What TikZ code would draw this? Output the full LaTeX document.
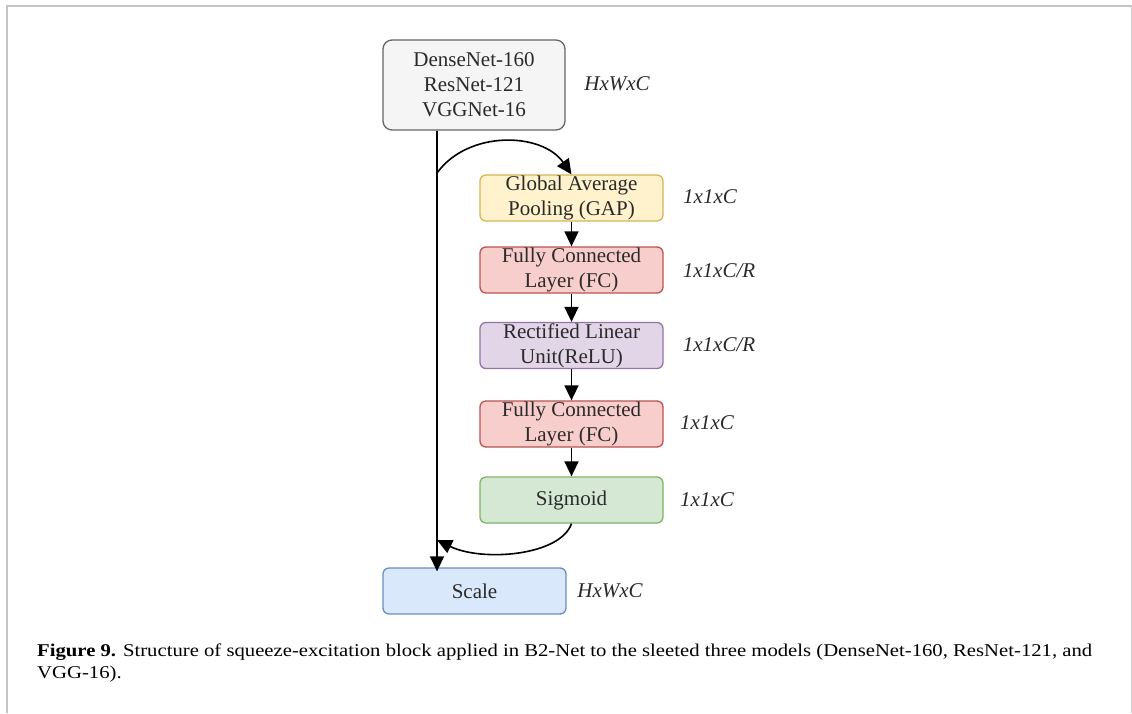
\documentclass[tikz,border=0pt]{standalone}
\usepackage{fontspec}
\setmainfont{Liberation Serif}
\newfontfamily\capfont[FakeStretch=1.15]{Liberation Serif}
\usetikzlibrary{arrows.meta}

\definecolor{framegray}{HTML}{C4C4C4}
\definecolor{txt}{HTML}{2A2A2A}
\definecolor{grayfill}{HTML}{F5F5F5}\definecolor{grayline}{HTML}{666666}
\definecolor{yelfill}{HTML}{FFF2CC}\definecolor{yelline}{HTML}{D6B656}
\definecolor{redfill}{HTML}{F8CECC}\definecolor{redline}{HTML}{B85450}
\definecolor{purfill}{HTML}{E1D5E7}\definecolor{purline}{HTML}{9673A6}
\definecolor{grnfill}{HTML}{D5E8D4}\definecolor{grnline}{HTML}{82B366}
\definecolor{blufill}{HTML}{DAE8FC}\definecolor{bluline}{HTML}{6C8EBF}

\tikzset{
  layer/.style={draw, line width=1.3pt, rounded corners=6pt, minimum width=183pt,
    minimum height=46pt, inner sep=0pt, align=center, text=txt,
    font=\fontsize{21}{25}\selectfont},
  dimlabel/.style={text=txt, font=\fontsize{21}{24}\selectfont\itshape, inner sep=0pt},
  flow/.style={line width=1.6pt, -{Triangle[length=15pt,width=14pt]}},
}

\begin{document}
\begin{tikzpicture}[x=1pt,y=-1pt]
  % page area and frame
  \fill[white] (0,0) rectangle (1132,713);
  \useasboundingbox (0,0) rectangle (1132,713);
  \draw[framegray, line width=2pt] (7,713) -- (7,5.5) -- (1132,5.5);
  \draw[framegray!80, line width=1pt] (1131,5.5) -- (1131,713);

  % input block
  \node[layer, draw=grayline, fill=grayfill, rounded corners=9pt,
        minimum width=182pt, minimum height=90pt] (inp) at (474,85)
        {DenseNet-160\\ResNet-121\\VGGNet-16};
  \node[dimlabel] (inpdim) at (617,84) {HxWxC};

  % squeeze-excitation branch
  \node[layer, draw=yelline, fill=yelfill] (gap) at (571.5,198) {Global Average\\Pooling (GAP)};
  \node[layer, draw=redline, fill=redfill] (fc1) at (571.5,270) {Fully Connected\\Layer (FC)};
  \node[layer, draw=purline, fill=purfill] (relu) at (571.5,345.5) {Rectified Linear\\Unit(ReLU)};
  \node[layer, draw=redline, fill=redfill] (fc2) at (571.5,424) {Fully Connected\\Layer (FC)};
  \node[layer, draw=grnline, fill=grnfill] (sig) at (571.5,500) {Sigmoid};

  \node[dimlabel] (gapdim) at (710,197) {1x1xC};
  \node[dimlabel] (fc1dim) at (719,271) {1x1xC/R};
  \node[dimlabel] (reludim) at (719,345) {1x1xC/R};
  \node[dimlabel] (fc2dim) at (707,423) {1x1xC};
  \node[dimlabel] (sigdim) at (707,500) {1x1xC};

  % output block
  \node[layer, draw=bluline, fill=blufill, minimum width=183pt] (scale) at (474.5,591) {Scale};
  \node[dimlabel] (scaledim) at (610,591) {HxWxC};

  % identity path
  \coordinate (vx) at (437,0);
  \coordinate (split) at (437,173);
  \coordinate (merge) at (437,540);
  \draw[flow] (inp.south -| vx) -- ([yshift=-4pt]scale.north -| vx);

  % branch out and back in
  \draw[flow] (split) .. controls (468,130) and (542,132) .. (gap.north);
  \draw[flow] (gap) -- (fc1);
  \draw[flow] (fc1) -- (relu);
  \draw[flow] (relu) -- (fc2);
  \draw[flow] (fc2) -- (sig);
  \draw[flow] (sig.south) .. controls (560,556) and (482,562) .. (merge);

  % caption (anchored on the baseline of its last line)
  \node[anchor=base west, inner sep=0pt, align=left,
        font=\capfont\fontsize{18}{21.5}\selectfont] (cap) at (37,678)
    {\textbf{Figure 9.} Structure of squeeze-excitation block applied in B2-Net to the sleeted three models (DenseNet-160, ResNet-121, and\\
     VGG-16).};
\end{tikzpicture}
\end{document}
